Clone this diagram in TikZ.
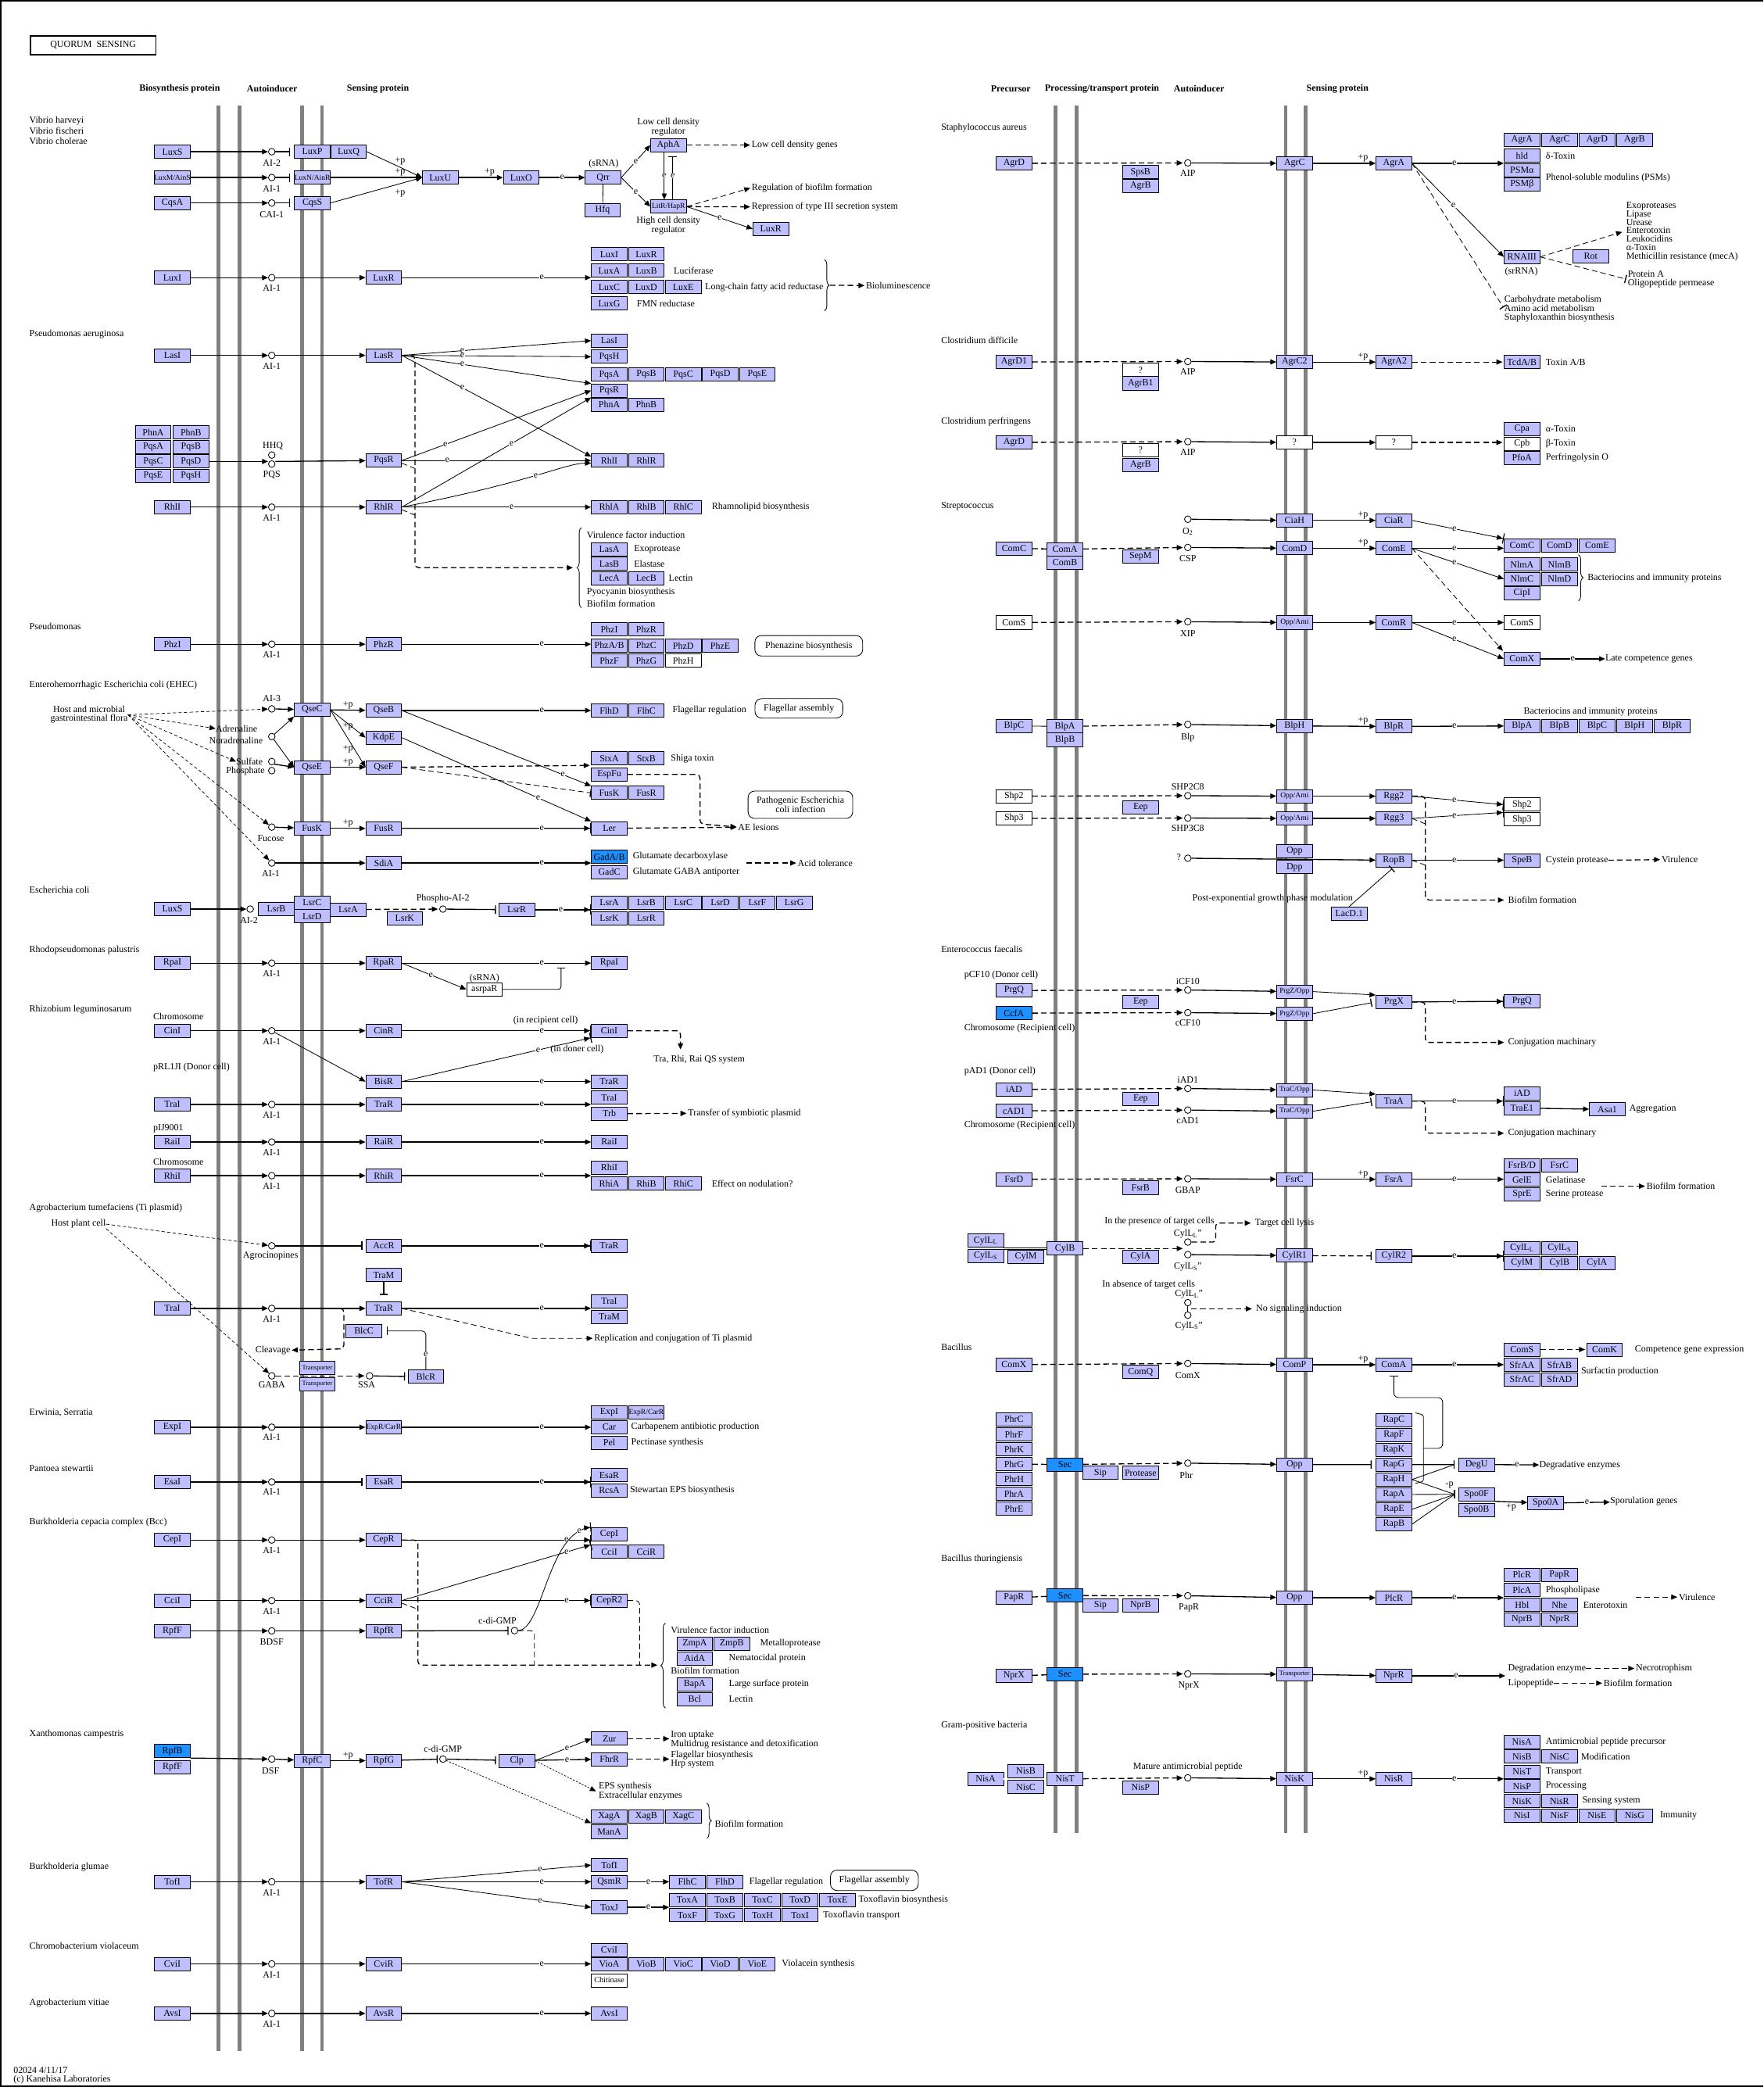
\documentclass[tikz,border=0pt]{standalone}
\usepackage{fontspec}
\setmainfont{Liberation Serif}
\usetikzlibrary{arrows.meta,positioning,decorations.pathreplacing}
\definecolor{kgene}{RGB}{191,191,255}
\definecolor{khit}{RGB}{30,144,255}
\definecolor{kmem}{RGB}{128,128,128}

\begin{document}
\begin{tikzpicture}[x=0.05cm, y=-0.05cm,
    txt/.style={font=\fontsize{10}{9}\selectfont, inner sep=0pt},
    gene/.style={txt, draw, line width=0.7pt, fill=kgene, minimum width=1.34cm, minimum height=0.5cm},
    sgene/.style={gene, font=\fontsize{8}{8}\selectfont},
    hgene/.style={gene, fill=khit},
    wgene/.style={gene, fill=white},
    cpd/.style={circle, draw, line width=0.7pt, fill=white, minimum size=0.25cm, inner sep=0pt},
    lab/.style={txt},
    note/.style={txt, anchor=west, align=left},
    hdr/.style={txt, font=\fontsize{10}{9}\selectfont\bfseries},
    elab/.style={txt, fill=white, inner sep=0.4pt},
    mem/.style={line width=4pt, draw=kmem},
    fine/.style={line width=0.7pt},
    act/.style={-{Triangle[length=6.5pt,width=5.5pt]}, line width=1.1pt},
    inh/.style={-{Bar[width=9pt,line width=1.1pt]}, line width=1.1pt},
    rep/.style={-{Triangle[length=6.5pt,width=5.5pt] Bar[width=11pt,line width=1pt]}, line width=1.1pt},
    dsh/.style={line width=1.1pt, dash pattern=on 6pt off 3.5pt},
    ind/.style={act, dash pattern=on 6pt off 3.5pt, shorten >=0.5mm},
    dinh/.style={inh, dash pattern=on 6pt off 3.5pt},
    hind/.style={act, line width=0.6pt, dash pattern=on 3.5pt off 2.5pt},
    dot/.style={act, line width=0.6pt, dash pattern=on 2pt off 1.5pt},
    pill/.style={txt, draw, line width=0.7pt, rounded corners=7pt, align=center},
    brc/.style={decorate, decoration={brace, amplitude=5pt}, line width=0.7pt}
  ]
  \useasboundingbox (0,0) rectangle (1325,1568);
  \draw[line width=1.2pt] (1325,0.6) -- (0.6,0.6) -- (0.6,1567.4) -- (1325,1567.4);
  \node[txt, draw, line width=1.2pt, minimum width=4.7cm, minimum height=0.7cm] (title) at (70,34) {QUORUM\ \ SENSING};

  % column heads
  \node[hdr] at (135,66.5) {Biosynthesis protein};
  \node[hdr] at (204.5,66.5) {Autoinducer};
  \node[hdr] at (284,66.5) {Sensing protein};
  \node[hdr] at (759.5,66.5) {Precursor};
  \node[hdr] at (828,66.5) {Processing/transport protein};
  \node[hdr] at (901,66.5) {Autoinducer};
  \node[hdr] at (1005,66.5) {Sensing protein};

  % membranes
  \foreach \xx in {164,180,227,242} \draw[mem] (\xx,79) -- (\xx,1541);
  \foreach \xx in {793,809,966,981} \draw[mem] (\xx,79) -- (\xx,1377);

  % ---------- Vibrio
  \node[note] at (22,98) {Vibrio harveyi\\[2pt]Vibrio fischeri\\[2pt]Vibrio cholerae};
  \node[gene] (luxS) at (129.5,114) {LuxS};
  \node[sgene] (luxM) at (129.5,133.4) {LuxM/AinS};
  \node[gene] (cqsA) at (129.5,152.5) {CqsA};
  \node[cpd] (ai2) at (204.2,114) {};
  \node[cpd] (ai1) at (204.2,133.4) {};
  \node[cpd] (cai1) at (204.2,152.5) {};
  \node[lab] at (204.2,122.3) {AI-2};
  \node[lab] at (204.2,141.8) {AI-1};
  \node[lab] at (204.2,161.5) {CAI-1};
  \node[gene] (luxP) at (234.7,114) {LuxP};
  \node[gene] (luxQ) at (261.9,114) {LuxQ};
  \node[sgene] (luxN) at (234.7,133.4) {LuxN/AinR};
  \node[gene] (cqsS) at (234.7,152.5) {CqsS};
  \node[gene] (luxU) at (330.8,133.4) {LuxU};
  \node[gene] (luxO) at (391.6,133.4) {LuxO};
  \node[gene] (qrr) at (453.2,133.4) {Qrr};
  \node[lab] at (453.6,123.3) {(sRNA)};
  \node[gene] (hfq) at (452.8,157.7) {Hfq};
  \node[gene] (aphA) at (502.3,109) {AphA};
  \node[lab, align=center] at (502.3,95.4) {Low cell density\\regulator};
  \node[sgene] (litR) at (502.3,155.2) {LitR/HapR};
  \node[lab, align=center] at (502.3,169.5) {High cell density\\regulator};
  \node[gene] (luxRv) at (579.2,172) {LuxR};
  \node[note] (lcdg) at (564.7,109) {Low cell density genes};
  \node[note] (rbf) at (564.7,141) {Regulation of biofilm formation};
  \node[note] (rt3) at (564.7,155.6) {Repression of type III secretion system};
  \draw[act] (luxS) -- (ai2);
  \draw[act] (luxM) -- (ai1);
  \draw[act] (cqsA) -- (cai1);
  \draw[inh, shorten >=1.6mm] (ai2) -- (luxP);
  \draw[inh, shorten >=1.6mm] (ai1) -- (luxN);
  \draw[inh, shorten >=1.6mm] (cai1) -- (cqsS);
  \draw[act, fine] (luxQ.east) -- (luxU.west);
  \draw[act] (luxN) -- (luxU);
  \draw[act, fine] (cqsS.east) -- (luxU.west);
  \node[lab] at (300.7,121.5) {+p};
  \node[lab] at (300.7,129.3) {+p};
  \node[lab] at (300.7,145.5) {+p};
  \draw[act] (luxU) -- node[lab, above=1pt, pos=.7] {+p} (luxO);
  \draw[act] (luxO) -- node[elab] {e} (qrr);
  \draw[fine] (qrr) -- (hfq);
  \draw[act, fine] (qrr.east) -- node[elab] {e} (aphA.west);
  \draw[act, fine] (qrr.east) -- node[elab] {e} (litR.west);
  \draw[act, fine] ([xshift=-1.6mm]aphA.south) -- node[elab] {e} ([xshift=-1.6mm]litR.north);
  \draw[inh, fine, shorten >=1.6mm] ([xshift=1.6mm]litR.north) -- node[elab] {e} ([xshift=1.6mm]aphA.south);
  \draw[ind] (aphA) -- (lcdg);
  \draw[ind, fine] (litR.east) -- (rbf.west);
  \draw[ind] (litR) -- (rt3);
  \draw[act, fine] (litR.east) -- node[elab] {e} (luxRv.west);

  % ---------- AHL rows of the left side
  \foreach \nm/\syn/\sen/\yy/\ai in {lux/LuxI/LuxR/208.6/AI-1, las/LasI/LasR/267/AI-1,
      rhl/RhlI/RhlR/381/AI-1, phz/PhzI/PhzR/484/AI-1, rpa/RpaI/RpaR/723.6/AI-1,
      cin/CinI/CinR/774.4/AI-1, tra/TraI/TraR/829.8/AI-1, rai/RaiI/RaiR/858/AI-1,
      rhi/RhiI/RhiR/883.3/AI-1, trb/TraI/TraR/983/AI-1, cep/CepI/CepR/1157/AI-1,
      cci/CciI/CciR/1202.5/AI-1, rpf/RpfF/RpfR/1225.3/BDSF, tof/TofI/TofR/1413.8/AI-1,
      cvi/CviI/CviR/1475.5/AI-1, avs/AvsI/AvsR/1512.7/AI-1} {
    \node[gene] (\nm-syn) at (129.5,\yy) {\syn};
    \node[cpd] (\nm-ai) at (204.2,\yy) {};
    \node[lab] at (204.2,\yy+8) {\ai};
    \node[gene] (\nm-sen) at (288.3,\yy) {\sen};
    \draw[act] (\nm-syn) -- (\nm-ai);
    \draw[act] (\nm-ai) -- (\nm-sen);
  }

  % LuxI / LuxR
  \node[gene] (lxI) at (457.8,191) {LuxI};
  \node[gene] (lxR) at (485.6,191) {LuxR};
  \node[gene] (lxA) at (457.8,203.4) {LuxA};
  \node[gene] (lxB) at (485.6,203.4) {LuxB};
  \foreach \g [count=\i from 0] in {LuxC,LuxD,LuxE} \node[gene] (lxC\i) at ({457.8+27.8*\i},215.7) {\g};
  \node[gene] (lxG) at (457.8,228) {LuxG};
  \node[note] at (506.2,203.4) {Luciferase};
  \node[note] at (529.7,215.7) {Long-chain fatty acid reductase};
  \node[note] at (478.4,228) {FMN reductase};
  \draw[act] (lux-sen) -- node[elab, pos=.74] {e} (lux-sen -| lxA.west);
  \draw[brc] (619.5,195) -- (619.5,233.5);
  \coordinate (biol) at (623.5,214.3);
  \node[note] (biolum) at (650.6,214.5) {Bioluminescence};
  \draw[ind] (biol) -- (biolum.west);

  % Pseudomonas aeruginosa
  \node[note] at (22,251) {Pseudomonas aeruginosa};
  \node[gene] (lasIt) at (457.8,255.9) {LasI};
  \node[gene] (pqsHt) at (457.8,268) {PqsH};
  \foreach \g [count=\i from 0] in {PqsA,PqsB,PqsC,PqsD,PqsE} \node[gene] (pqsA\i) at ({457.8+27.8*\i},281.5) {\g};
  \node[gene] (pqsRt) at (457.8,293.4) {PqsR};
  \node[gene] (phnAt) at (457.8,304.1) {PhnA};
  \node[gene] (phnBt) at (485.6,304.1) {PhnB};
  \foreach \a/\b/\yy [count=\i] in {PhnA/PhnB/324.9, PqsA/PqsB/335.8, PqsC/PqsD/346.7, PqsE/PqsH/357.6} {
    \node[gene] (pq\i-a) at (115.1,\yy) {\a};
    \node[gene] (pq\i-b) at (143.5,\yy) {\b};
  }
  \node[cpd] (hhq) at (204.2,341.9) {};
  \node[cpd] (pqs) at (204.2,348.6) {};
  \node[lab] at (205,335) {HHQ};
  \node[lab] at (204.2,356.7) {PQS};
  \node[gene] (pqsR) at (288.3,346) {PqsR};
  \draw[act] (pq3-b.east) -- (pq3-b.east -| hhq.west);
  \draw[act] (pq3-b.east -| hhq.east) -- (pqsR);
  \node[gene] (rhlIt) at (457.8,346) {RhlI};
  \node[gene] (rhlRt) at (485.6,346) {RhlR};
  \foreach \g [count=\i from 0] in {RhlA,RhlB,RhlC} \node[gene] (rhlA\i) at ({457.8+27.8*\i},381) {\g};
  \node[note] at (534.8,381) {Rhamnolipid biosynthesis};
  \draw[act, fine] (las-sen.east) -- node[elab, pos=.32] {e} (lasIt.west);
  \draw[act, fine] (las-sen.east) -- node[elab, pos=.32] {e} (pqsHt.west);
  \draw[act, fine] (las-sen.east) -- node[elab, pos=.32] {e} (pqsRt.north west);
  \draw[act, fine] (las-sen.east) -- node[elab, pos=.32] {e} ([yshift=1.5mm]rhlIt.west);
  \draw[act, fine] (pqsR.east) -- node[elab, pos=.23] {e} (pqsRt.west);
  \draw[act] (pqsR) -- node[elab, pos=.24] {e} (rhlIt);
  \draw[act, fine] (rhl-sen.east) -- node[elab, pos=.58] {e} (pqsRt.south west);
  \draw[act, fine] (rhl-sen.east) .. controls (400,362) and (425,348) .. node[elab, pos=.5] {e} ([yshift=-1mm]rhlIt.west);
  \draw[act] (rhl-sen) -- node[elab, pos=.58] {e} (rhlA0);
  \coordinate (vfi) at (431.5,426.5);
  \coordinate (vj1) at (311.8,352);
  \coordinate (vj2) at (311.8,387);
  \draw[ind, rounded corners=4pt] (las-sen.east) -| (311.8,420) |- (vfi);
  \draw[dsh, fine] ([yshift=-1mm]pqsR.east) -- (vj1);
  \draw[dsh, fine] ([yshift=-1mm]rhl-sen.east) -- (vj2);
  \draw[brc] (437,456.6) -- (437,396.4);
  \node[note] at (440.8,401.7) {Virulence factor induction};
  \node[gene] (lasA) at (457.8,412.6) {LasA};
  \node[gene] (lasB) at (457.8,423.5) {LasB};
  \node[gene] (lecA) at (457.8,434.6) {LecA};
  \node[gene] (lecB) at (485.6,434.6) {LecB};
  \node[note] at (476.3,412.6) {Exoprotease};
  \node[note] at (476.3,423.5) {Elastase};
  \node[note] at (502.4,434.6) {Lectin};
  \node[note] at (440.8,444.7) {Pyocyanin biosynthesis};
  \node[note] at (440.8,453.5) {Biofilm formation};

  % Pseudomonas
  \node[note] at (22,470.5) {Pseudomonas};
  \node[gene] (phzIt) at (457.8,472.9) {PhzI};
  \node[gene] (phzRt) at (485.6,472.9) {PhzR};
  \node[gene] (phz0) at (457.8,485) {PhzA/B};
  \foreach \g [count=\i] in {PhzC,PhzD,PhzE} \node[gene] (phz\i) at ({457.8+27.8*\i},485) {\g};
  \node[gene] (phzF) at (457.8,496.4) {PhzF};
  \node[gene] (phzG) at (485.6,496.4) {PhzG};
  \node[wgene] (phzH) at (513.4,496.4) {PhzH};
  \draw[act] (phz-sen) -- node[elab, pos=.74] {e} (phz-sen -| phz0.west);
  \node[pill, minimum width=4.05cm, minimum height=0.77cm] (phzm) at (607.7,485.2) {Phenazine biosynthesis};

  % ---------- EHEC
  \node[note] at (22,515) {Enterohemorrhagic Escherichia coli (EHEC)};
  \node[lab, align=center] (host) at (67,537) {Host and microbial\\gastrointestinal flora};
  \node[cpd] (ai3) at (204.2,532.6) {};
  \node[lab] at (204.2,524.8) {AI-3};
  \node[cpd] (adrc) at (204.2,553.4) {};
  \node[lab, anchor=east] (adr) at (193.5,547.4) {Adrenaline};
  \node[lab, anchor=east] at (197.5,556.2) {Noradrenaline};
  \node[cpd] (sulc) at (204.2,572.2) {};
  \node[cpd] (phoc) at (204.2,579) {};
  \node[lab, anchor=east] (sul) at (197.5,572.2) {Sulfate};
  \node[lab, anchor=east] at (199,579.5) {Phosphate};
  \node[cpd] (fuc) at (204.2,621.4) {};
  \node[lab] at (203.5,629.7) {Fucose};
  \node[cpd] (ai1e) at (204.2,648.4) {};
  \node[lab] at (203.5,656) {AI-1};
  \node[gene] (qseC) at (234.5,533.2) {QseC};
  \node[gene] (qseE) at (234.5,576.4) {QseE};
  \node[gene] (fusK) at (234.5,622.4) {FusK};
  \node[gene] (qseB) at (288.3,533.8) {QseB};
  \node[gene] (kdpE) at (288.3,554.2) {KdpE};
  \node[gene] (qseF) at (288.3,576.4) {QseF};
  \node[gene] (fusR) at (288.3,622.4) {FusR};
  \node[gene] (sdiA) at (288.3,648.4) {SdiA};
  \draw[hind] (host.east) -- (ai3);
  \draw[hind] (host.east) -- (adr.west);
  \draw[hind] (host.east) -- (sul.west);
  \draw[hind] (host.east) -- (fuc);
  \draw[hind] (host.east) -- (ai1e);
  \draw[act] (ai3) -- (qseC);
  \draw[act, fine] (adrc) -- (qseC.south west);
  \draw[act, fine] (adrc) -- (qseE.west);
  \draw[act] (sulc.south east) -- (qseE.west);
  \draw[act] (fuc) -- (fusK);
  \draw[act] (ai1e) -- (sdiA);
  \draw[act] (qseC) -- node[lab, above=1pt] {+p} (qseB);
  \draw[act, fine] (qseC.east) -- (kdpE.west);
  \draw[act, fine] (qseC.east) -- (qseF.west);
  \node[lab] at (261.4,545.7) {+p};
  \node[lab] at (261.4,562.6) {+p};
  \draw[act] (qseE) -- node[lab, above=1pt] {+p} (qseF);
  \draw[act] (fusK) -- node[lab, above=1pt] {+p} (fusR);
  \node[gene] (flhD) at (457.8,533.8) {FlhD};
  \node[gene] (flhC) at (485.6,533.8) {FlhC};
  \node[note] at (505.3,533.8) {Flagellar regulation};
  \node[pill, minimum width=3.3cm, minimum height=0.73cm] (flgA) at (600.3,532.2) {Flagellar assembly};
  \node[gene] (stxA) at (457.8,569.8) {StxA};
  \node[gene] (stxB) at (485.6,569.8) {StxB};
  \node[note] at (504,569.8) {Shiga toxin};
  \node[gene] (espF) at (457.8,581.8) {EspFu};
  \node[gene] (fsK) at (457.8,595.7) {FusK};
  \node[gene] (fsR) at (485.6,595.7) {FusR};
  \node[gene] (ler) at (457.8,622.3) {Ler};
  \node[note] (ael) at (554.5,621.4) {AE lesions};
  \node[pill, minimum width=3.93cm, minimum height=1.03cm] (pec) at (601.4,604.6) {Pathogenic Escherichia\\coli infection};
  \draw[act] (qseB) -- node[elab, pos=.74] {e} (flhD);
  \draw[act, fine] (qseB.east) -- node[elab, pos=.85] {e} (fsK.north west);
  \draw[act, fine] (kdpE.east) -- node[elab, pos=.72] {e} (ler.north west);
  \draw[ind] (qseF.east) -- (stxA.south west);
  \draw[dinh, fine] (qseF.east) -- (fsK.west);
  \draw[rep] (fusR) -- node[elab, pos=.74] {e} (ler);
  \draw[ind, rounded corners=4pt] (espF.east) -- (526,581.8) -- (526,619) -- (ael.west);
  \draw[ind] (ler) -- (ael);
  \node[hgene] (gadA) at (457.8,643.7) {GadA/B};
  \node[gene] (gadC) at (457.8,655.3) {GadC};
  \node[note] at (475.4,643.7) {Glutamate decarboxylase};
  \node[note] at (475.4,655.3) {Glutamate GABA antiporter};
  \draw[act] (sdiA) -- node[elab, pos=.74] {e} (sdiA -| gadA.west);
  \coordinate (gadx) at (560.9,648.4);
  \node[note] (acid) at (599.3,648.4) {Acid tolerance};
  \draw[ind] (gadx) -- (acid.west);

  % ---------- Escherichia coli
  \node[note] at (22,668.5) {Escherichia coli};
  \node[gene] (luxSe) at (129.5,683) {LuxS};
  \node[cpd] (ai2e) at (188,683) {};
  \node[lab] at (187.1,691.8) {AI-2};
  \node[gene] (lsrB) at (207.6,683) {LsrB};
  \node[gene] (lsrC) at (234.5,678) {LsrC};
  \node[gene] (lsrD) at (234.5,688.4) {LsrD};
  \node[gene] (lsrA) at (261.6,683.3) {LsrA};
  \node[gene] (lsrK) at (304.1,689.9) {LsrK};
  \node[cpd] (pai2) at (332.8,683) {};
  \node[lab] at (332.8,675.4) {Phospho-AI-2};
  \node[gene] (lsrR) at (388.3,683.5) {LsrR};
  \foreach \g [count=\i from 0] in {LsrA,LsrB,LsrC,LsrD,LsrF,LsrG} \node[gene] (lt\i) at ({457.8+27.8*\i},678) {\g};
  \node[gene] (ltK) at (457.8,689.9) {LsrK};
  \node[gene] (ltR) at (485.6,689.9) {LsrR};
  \draw[act] (luxSe) -- (ai2e);
  \draw[ind] (lsrA) -- (pai2);
  \draw[inh, shorten >=1mm] (pai2) -- (lsrR);
  \draw[rep] (lsrR) -- node[elab, pos=.46] {e} (lsrR -| lt0.west);

  % ---------- Rhodopseudomonas palustris
  \node[note] at (22,713.6) {Rhodopseudomonas palustris};
  \node[gene] (rpaIt) at (457.8,723.6) {RpaI};
  \node[wgene] (asr) at (364,743.3) {asrpaR};
  \node[lab] at (364,734.8) {(sRNA)};
  \draw[act] (rpa-sen) -- node[elab, pos=.74] {e} (rpaIt);
  \draw[act, fine] (rpa-sen.east) -- node[elab, pos=.45] {e} (asr.west);
  \coordinate (rpae) at (421.6,727);
  \draw[inh, fine, rounded corners=3pt] (asr.east) -| (rpae);

  % ---------- Rhizobium leguminosarum
  \node[note] at (22,758.5) {Rhizobium leguminosarum};
  \node[note] at (115,763.6) {Chromosome};
  \node[note] at (115,802) {pRL1JI (Donor cell)};
  \node[note] at (115,847.6) {pIJ9001};
  \node[note] at (115,872.8) {Chromosome};
  \node[gene] (cinIt) at (457.8,774.4) {CinI};
  \node[lab] at (410,766.8) {(in recipient cell)};
  \node[lab] at (433.6,788.3) {(in doner cell)};
  \node[gene] (bisR) at (288.3,812.6) {BisR};
  \draw[rep] (cin-sen) -- node[elab, pos=.74] {e} (cinIt);
  \draw[act, fine] (cin-ai) -- (bisR.west);
  \draw[rep, fine] (bisR.east) -- node[elab, pos=.72] {e} (cinIt.south west);
  \coordinate (trq) at (511.3,789.5);
  \node[lab] (trarhi) at (525.4,796.2) {Tra, Rhi, Rai QS system};
  \draw[ind, rounded corners=4pt] (cinIt.east) -| (trq);
  \node[gene] (traRt) at (457.8,812.6) {TraR};
  \node[gene] (traIt) at (457.8,824.7) {TraI};
  \node[gene] (trbt) at (457.8,836.7) {Trb};
  \node[note] (tsp) at (516.9,836.5) {Transfer of symbiotic plasmid};
  \draw[act] (bisR) -- node[elab, pos=.74] {e} (traRt);
  \draw[act] (tra-sen) -- node[elab, pos=.74] {e} (tra-sen -| traIt.west);
  \draw[ind] (trbt) -- (tsp.west);
  \node[gene] (raiIt) at (457.8,858) {RaiI};
  \draw[act] (rai-sen) -- node[elab, pos=.74] {e} (raiIt);
  \node[gene] (rhiIt) at (457.8,877.2) {RhiI};
  \foreach \g [count=\i from 0] in {RhiA,RhiB,RhiC} \node[gene] (rhiA\i) at ({457.8+27.8*\i},889.3) {\g};
  \node[note] at (534.8,889.3) {Effect on nodulation?};
  \draw[act] (rhi-sen) -- node[elab, pos=.74] {e} (rhi-sen -| rhiIt.west);

  % ---------- Agrobacterium tumefaciens
  \node[note] at (22,907.5) {Agrobacterium tumefaciens (Ti plasmid)};
  \node[lab] (hpc) at (59,919.7) {Host plant cell};
  \node[cpd] (agc) at (204.2,936) {};
  \node[lab] at (203.3,943.7) {Agrocinopines};
  \node[gene] (accR) at (288.3,936) {AccR};
  \node[gene] (traRa) at (457.8,936) {TraR};
  \node[gene] (traM) at (288.3,958) {TraM};
  \node[gene] (traIb) at (457.8,977.6) {TraI};
  \node[gene] (traMb) at (457.8,989.2) {TraM};
  \node[cpd] (gaba) at (204.2,1033.7) {};
  \node[lab] at (204.2,1040.6) {GABA};
  \node[sgene, font=\fontsize{7}{7}\selectfont] (tp1) at (238.4,1027.8) {Transporter};
  \node[sgene, font=\fontsize{7}{7}\selectfont] (tp2) at (238.4,1040) {Transporter};
  \node[cpd] (ssa) at (277.7,1033.7) {};
  \node[lab] at (275.5,1040.6) {SSA};
  \node[gene] (blcR) at (320,1034.4) {BlcR};
  \node[gene] (blcC) at (273.4,1000) {BlcC};
  \node[lab] (clv) at (205,1014.4) {Cleavage};
  \node[note] (rcti) at (446.4,1005.5) {Replication and conjugation of Ti plasmid};
  \draw[hind] (hpc.east) -- (agc);
  \draw[hind] (hpc.south east) -- (gaba);
  \draw[inh, shorten >=1.2mm] (agc) -- (accR);
  \draw[rep] (accR) -- node[elab, pos=.74] {e} (traRa);
  \draw[inh, shorten >=2.4mm] (traM) -- (trb-sen);
  \draw[act] (trb-sen) -- node[elab, pos=.74] {e} (trb-sen -| traIb.west);
  \draw[ind, fine] (trb-sen.east) -- (399.4,1005.5) -- (rcti.west);
  \coordinate (clvs) at (255.4,983);
  \draw[ind, rounded corners=4pt] (clvs) -| (258.4,1013.4) -- (clv.east);
  \draw[inh, fine, rounded corners=4pt, shorten >=1.8mm] (blcR.north) |- node[elab, pos=.2] {e} (blcC.east);
  \draw[ind] (gaba) -- (ssa);
  \draw[inh, shorten >=1mm] (ssa) -- (blcR);

  % ---------- Erwinia, Serratia
  \node[note] at (22,1061.5) {Erwinia, Serratia};
  \node[gene] (expIs) at (129.5,1072.3) {ExpI};
  \node[cpd] (expc) at (204.2,1072.3) {};
  \node[lab] at (204.2,1079.8) {AI-1};
  \node[sgene] (expR) at (288.3,1072.3) {ExpR/CarR};
  \node[gene] (expIt) at (457.8,1061.1) {ExpI};
  \node[sgene] (expRt) at (485.6,1061.1) {ExpR/CarR};
  \node[gene] (car) at (457.8,1072.3) {Car};
  \node[gene] (pel) at (457.8,1084) {Pel};
  \node[note] at (474.2,1072.3) {Carbapenem antibiotic production};
  \node[note] at (474.2,1084) {Pectinase synthesis};
  \draw[act] (expIs) -- (expc);
  \draw[act] (expc) -- (expR);
  \draw[act] (expR) -- node[elab, pos=.74] {e} (car);

  % ---------- Pantoea stewartii
  \node[note] at (22,1103) {Pantoea stewartii};
  \node[gene] (esaIs) at (129.5,1113.4) {EsaI};
  \node[cpd] (esac) at (204.2,1113.4) {};
  \node[lab] at (204.2,1121) {AI-1};
  \node[gene] (esaR) at (288.3,1113.4) {EsaR};
  \node[gene] (esaRt) at (457.8,1108.3) {EsaR};
  \node[gene] (rcsA) at (457.8,1119.9) {RcsA};
  \node[note] at (473.3,1119.9) {Stewartan EPS biosynthesis};
  \draw[act] (esaIs) -- (esac);
  \draw[inh, shorten >=1.2mm] (esac) -- (esaR);
  \draw[rep] (esaR) -- node[elab, pos=.74] {e} (esaR -| esaRt.west);

  % ---------- Burkholderia cepacia complex
  \node[note] at (22,1144) {Burkholderia cepacia complex (Bcc)};
  \node[gene] (cepIt) at (457.8,1152.8) {CepI};
  \node[gene] (cciIt) at (457.8,1165.8) {CciI};
  \node[gene] (cciRt) at (485.6,1165.8) {CciR};
  \node[gene] (cepR2) at (457.9,1202.5) {CepR2};
  \node[cpd] (cdg1) at (386.6,1225.1) {};
  \node[lab] at (373.8,1217.8) {c-di-GMP};
  \draw[rep] (cep-sen) -- node[elab, pos=.87] {e} (cep-sen -| cepIt.west);
  \draw[rep, fine] (cci-sen.east) -- node[elab, pos=.87] {e} (cciIt.north west);
  \draw[rep, fine] (cdg1.east) .. controls (408,1224) and (412,1150) .. node[elab, pos=.9] {e} (cepIt.north west);
  \draw[rep] (cci-sen) -- node[elab, pos=.87] {e} (cepR2);
  \draw[inh, shorten >=0.9mm] (rpf-sen) -- (cdg1);
  \coordinate (vf2) at (495,1251);
  \draw[ind, rounded corners=4pt] (cep-sen.east) -| (314,1245) |- (vf2);
  \draw[dsh, fine] ([yshift=-1mm]cci-sen.east) -- (314,1209);
  \draw[dsh, fine, rounded corners=4pt] (cdg1.east) -| (401.5,1251);
  \draw[dsh, fine, rounded corners=4pt] (cepR2.east) -| (480.6,1251);
  \draw[brc] (500,1283.3) -- (500,1219.5);
  \node[note] at (504,1224.5) {Virulence factor induction};
  \node[gene] (zmpA) at (522,1235) {ZmpA};
  \node[gene] (zmpB) at (549.8,1235) {ZmpB};
  \node[gene] (aidA) at (522,1246.1) {AidA};
  \node[note] at (504,1255.1) {Biofilm formation};
  \node[gene] (bapA) at (522,1265.4) {BapA};
  \node[gene] (bcl) at (522,1276.6) {Bcl};
  \node[note] at (571.1,1235) {Metalloprotease};
  \node[note] at (547.6,1246.1) {Nematocidal protein};
  \node[note] at (547.6,1265.4) {Large surface protein};
  \node[note] at (547.6,1276.6) {Lectin};

  % ---------- Xanthomonas campestris
  \node[note] at (22,1302.8) {Xanthomonas campestris};
  \node[hgene] (rpfB) at (129.5,1315.6) {RpfB};
  \node[gene] (rpfFx) at (129.5,1327.7) {RpfF};
  \node[cpd] (dsf) at (204.2,1321.6) {};
  \node[lab] at (203.3,1330.7) {DSF};
  \node[gene] (rpfC) at (234.5,1322.8) {RpfC};
  \node[gene] (rpfG) at (288.3,1322.8) {RpfG};
  \node[cpd] (cdg2) at (332.8,1321.6) {};
  \node[lab] at (332.8,1314) {c-di-GMP};
  \node[gene] (clp) at (388.3,1322.8) {Clp};
  \node[gene] (zur) at (457.9,1306.3) {Zur};
  \node[gene] (fhrR) at (457.9,1321.6) {FhrR};
  \foreach \g [count=\i from 0] in {XagA,XagB,XagC} \node[gene] (xag\i) at ({457.8+27.8*\i},1364.5) {\g};
  \node[gene] (manA) at (457.8,1376.2) {ManA};
  \node[note] (iron) at (504,1307) {Iron uptake\\Multidrug resistance and detoxification};
  \node[note] (flbs) at (504,1321.9) {Flagellar biosynthesis\\Hrp system};
  \node[note] (eps) at (449.8,1345.8) {EPS synthesis\\Extracellular enzymes};
  \draw[act] (rpfB.south east) -- (dsf);
  \draw[act] (dsf) -- (rpfC);
  \draw[act] (rpfC) -- node[lab, above=1pt] {+p} (rpfG);
  \draw[inh, shorten >=0.6mm] (rpfG) -- (cdg2);
  \draw[inh, shorten >=1mm] (cdg2) -- (clp);
  \draw[act, fine] (clp.east) -- node[elab, pos=.57] {e} (zur.west);
  \draw[act] (clp) -- node[elab, pos=.57] {e} (fhrR);
  \draw[dot] (clp.east) -- ([xshift=-1mm]eps.west);
  \draw[dot] (cdg2) -- (xag0.south west);
  \draw[ind] (zur.east) -- (zur.east -| iron.west);
  \draw[ind] (fhrR.east) -- (fhrR.east -| flbs.west);
  \draw[brc] (531,1354.7) -- (531,1381.2);
  \node[note] at (537,1370) {Biofilm formation};

  % ---------- Burkholderia glumae
  \node[note] at (22,1403) {Burkholderia glumae};
  \node[gene] (tofIt) at (457.8,1401.3) {TofI};
  \node[gene] (qsmR) at (457.8,1413.8) {QsmR};
  \node[gene] (toxJ) at (457.8,1433) {ToxJ};
  \node[gene] (flhCb) at (516.5,1413.8) {FlhC};
  \node[gene] (flhDb) at (544.7,1413.8) {FlhD};
  \node[note] at (563,1414) {Flagellar regulation};
  \node[pill, minimum width=3.3cm, minimum height=0.77cm] (flgB) at (657,1412.7) {Flagellar assembly};
  \foreach \g [count=\i from 0] in {ToxA,ToxB,ToxC,ToxD,ToxE} \node[gene] (tx\i) at ({516.5+28.2*\i},1427.5) {\g};
  \foreach \g [count=\i from 0] in {ToxF,ToxG,ToxH,ToxI} \node[gene] (ty\i) at ({516.5+28.2*\i},1438.9) {\g};
  \node[note] at (645,1427.5) {Toxoflavin biosynthesis};
  \node[note] at (618.5,1439) {Toxoflavin transport};
  \draw[act, fine] (tof-sen.east) -- node[elab, pos=.73] {e} (tofIt.west);
  \draw[act] (tof-sen) -- node[elab, pos=.74] {e} (qsmR);
  \draw[act, fine] (tof-sen.east) -- node[elab, pos=.73] {e} (toxJ.west);
  \draw[act] (qsmR) -- node[elab] {e} (flhCb);
  \draw[act] (toxJ) -- node[elab] {e} (toxJ -| tx0.west);

  % ---------- Chromobacterium violaceum
  \node[note] at (22,1462) {Chromobacterium violaceum};
  \node[gene] (cviIt) at (457.8,1465) {CviI};
  \foreach \g [count=\i from 0] in {VioA,VioB,VioC,VioD,VioE} \node[gene] (vio\i) at ({457.8+27.8*\i},1475.5) {\g};
  \node[wgene, font=\fontsize{8.5}{9}\selectfont] (chit) at (457.8,1487.8) {Chitinase};
  \node[note] at (587.4,1475.5) {Violacein synthesis};
  \draw[act] (cvi-sen) -- node[elab, pos=.74] {e} (vio0);

  % ---------- Agrobacterium vitiae
  \node[note] at (22,1504.7) {Agrobacterium vitiae};
  \node[gene] (avsIt) at (457.8,1512.7) {AvsI};
  \draw[act] (avs-sen) -- node[elab, pos=.74] {e} (avsIt);

  \node[note] at (10,1555.6) {02024 4/11/17};
  \node[note] at (10,1562.3) {(c) Kanehisa Laboratories};

  % ================= right side
  % Staphylococcus aureus
  \node[note] at (707.1,95.9) {Staphylococcus aureus};
  \node[gene] (agrD) at (761.9,122.7) {AgrD};
  \node[gene] (spsB) at (857,129.4) {SpsB};
  \node[gene] (agrB) at (857,139.5) {AgrB};
  \node[cpd] (aip1) at (892.5,122.4) {};
  \node[lab] at (892.5,130.3) {AIP};
  \node[gene] (agrC) at (972.7,122.7) {AgrC};
  \node[gene] (agrA) at (1047.3,122.7) {AgrA};
  \foreach \g [count=\i from 0] in {AgrA,AgrC,AgrD,AgrB} \node[gene] (sa\i) at ({1143.6+28.2*\i},105.3) {\g};
  \node[gene] (hld) at (1143.6,117) {hld};
  \node[gene] (psma) at (1143.6,128) {PSMα};
  \node[gene] (psmb) at (1143.6,138.4) {PSMβ};
  \node[note] at (1161.4,117) {δ-Toxin};
  \node[note] at (1161.4,133.4) {Phenol-soluble modulins (PSMs)};
  \node[gene] (rnaIII) at (1143.6,193) {RNAIII};
  \node[lab] at (1143.2,203.9) {(srRNA)};
  \node[gene] (rot) at (1195.2,192.6) {Rot};
  \node[note] (exo) at (1221.8,174) {Exoproteases\\Lipase\\Urease\\Enterotoxin\\Leukocidins\\α-Toxin\\Methicillin resistance (mecA)};
  \node[note] (prA) at (1223,210) {Protein A\\Oligopeptide permease};
  \node[note] (carb) at (1130.3,232) {Carbohydrate metabolism\\Amino acid metabolism\\Staphyloxanthin biosynthesis};
  \draw[ind] (agrD) -- (aip1);
  \draw[act] (aip1) -- (agrC);
  \draw[act] (agrC) -- node[lab, above=1pt, pos=.8] {+p} (agrA);
  \draw[act] (agrA) -- node[elab, pos=.46] {e} (agrA -| hld.west);
  \draw[act, fine] (agrA.east) -- node[elab, pos=.45] {e} (rnaIII.west);
  \draw[ind, fine] (rnaIII.east) -- ([xshift=-1mm]exo.west);
  \draw[dinh, fine, shorten >=0.6mm] (rnaIII.east) -- (prA.west);
  \draw[dinh, fine, shorten >=0.6mm] (agrA.east) -- (carb.west);

  % Clostridium difficile
  \node[note] at (707.1,255.9) {Clostridium difficile};
  \node[gene] (agrD1) at (761.9,272) {AgrD1};
  \node[wgene] (qa) at (857,277.9) {?};
  \node[gene] (agrB1) at (857,288) {AgrB1};
  \node[cpd] (aip2) at (892.5,271.6) {};
  \node[lab] at (892.5,279.4) {AIP};
  \node[gene] (agrC2) at (972.7,272) {AgrC2};
  \node[gene] (agrA2) at (1047.3,272) {AgrA2};
  \node[gene] (tcdA) at (1143.6,272) {TcdA/B};
  \node[note] at (1161.4,272) {Toxin A/B};
  \draw[ind] (agrD1) -- (aip2);
  \draw[act] (aip2) -- (agrC2);
  \draw[act] (agrC2) -- node[lab, above=1pt, pos=.8] {+p} (agrA2);
  \draw[ind] (agrA2) -- (tcdA);

  % Clostridium perfringens
  \node[note] at (707.1,316.7) {Clostridium perfringens};
  \node[gene] (agrDp) at (761.9,332.4) {AgrD};
  \node[wgene] (qb) at (857,338.1) {?};
  \node[gene] (agrBp) at (857,349.2) {AgrB};
  \node[cpd] (aip3) at (892.5,331.8) {};
  \node[lab] at (892.5,339.6) {AIP};
  \node[wgene] (qc) at (972.7,332.4) {?};
  \node[wgene] (qd) at (1047.3,332.4) {?};
  \node[gene] (cpa) at (1143.6,322.4) {Cpa};
  \node[wgene] (cpb) at (1143.6,333.5) {Cpb};
  \node[gene] (pfoA) at (1143.6,344) {PfoA};
  \node[note] at (1161.4,322.4) {α-Toxin};
  \node[note] at (1161.4,333.5) {β-Toxin};
  \node[note] at (1161.4,344) {Perfringolysin O};
  \draw[ind] (agrDp) -- (aip3);
  \draw[act] (aip3) -- (qc);
  \draw[act] (qc) -- (qd);
  \draw[ind] (qd) -- (qd -| cpb.west);

  % Streptococcus
  \node[note] at (707.1,380.7) {Streptococcus};
  \node[cpd] (o2) at (892.5,390.1) {};
  \node[lab] at (892.5,399.4) {O\textsubscript{2}};
  \node[gene] (ciaH) at (972.7,391) {CiaH};
  \node[gene] (ciaR) at (1047.3,391) {CiaR};
  \node[gene] (comC) at (761.9,412) {ComC};
  \node[gene] (comA) at (800.2,412.6) {ComA};
  \node[gene] (comB) at (800.2,422.6) {ComB};
  \node[gene] (sepM) at (857,417.8) {SepM};
  \node[cpd] (csp) at (892.5,411.3) {};
  \node[lab] at (892.5,419.9) {CSP};
  \node[gene] (comD) at (972.7,411.9) {ComD};
  \node[gene] (comE) at (1047.3,411.9) {ComE};
  \foreach \g [count=\i from 0] in {ComC,ComD,ComE} \node[gene] (cc\i) at ({1143.6+28.2*\i},409.9) {\g};
  \node[gene] (nlmA) at (1143.6,424.1) {NlmA};
  \node[gene] (nlmB) at (1171.8,424.1) {NlmB};
  \node[gene] (nlmC) at (1143.6,435) {NlmC};
  \node[gene] (nlmD) at (1171.8,435) {NlmD};
  \node[gene] (cipI) at (1143.6,445.7) {CipI};
  \draw[brc] (1186,416.7) -- (1186,451.4);
  \node[note] at (1192.8,434.6) {Bacteriocins and immunity proteins};
  \node[wgene] (comS) at (761.9,467.7) {ComS};
  \node[cpd] (xip) at (892.5,467.1) {};
  \node[lab] at (892.5,476.1) {XIP};
  \node[sgene] (oppA1) at (972.7,467.7) {Opp/Ami};
  \node[gene] (comR) at (1047.3,467.7) {ComR};
  \node[wgene] (comSt) at (1143.6,467.7) {ComS};
  \node[gene] (comX) at (1143.6,495) {ComX};
  \node[note] (lcg) at (1206.1,495) {Late competence genes};
  \draw[act] (o2) -- (ciaH);
  \draw[act] (ciaH) -- node[lab, above=1pt, pos=.8] {+p} (ciaR);
  \draw[rep, fine] (ciaR.east) -- node[elab, pos=.46] {e} (cc0.north west);
  \draw[dsh] (comC) -- (comA);
  \draw[ind] (comA) -- (csp);
  \draw[act] (csp) -- (comD);
  \draw[act] (comD) -- node[lab, above=1pt, pos=.8] {+p} (comE);
  \draw[act] (comE) -- node[elab, pos=.46] {e} (comE -| cc0.west);
  \draw[act, fine] (comE.east) -- node[elab, pos=.46] {e} (nlmC.west);
  \draw[ind, fine] (comE.east) -- (comX.north west);
  \draw[ind] (comS) -- (xip);
  \draw[act] (xip) -- (oppA1);
  \draw[act] (oppA1) -- (comR);
  \draw[act] (comR) -- node[elab, pos=.46] {e} (comSt);
  \draw[act, fine] (comR.east) -- node[elab, pos=.46] {e} (comX.west);
  \draw[act] (comX) -- node[elab] {e} (lcg);

  \node[gene] (blpC) at (761.9,545.4) {BlpC};
  \node[gene] (blpA) at (800.2,545.8) {BlpA};
  \node[gene] (blpB) at (800.2,555.8) {BlpB};
  \node[cpd] (blp) at (892.5,544.3) {};
  \node[lab] at (892.5,554.2) {Blp};
  \node[gene] (blpH) at (972.7,545.4) {BlpH};
  \node[gene] (blpR) at (1047.3,545.8) {BlpR};
  \foreach \g [count=\i from 0] in {BlpA,BlpB,BlpC,BlpH,BlpR} \node[gene] (bl\i) at ({1143.6+28.2*\i},545.4) {\g};
  \node[lab] at (1195.2,534.9) {Bacteriocins and immunity proteins};
  \draw[fine] (blpC) -- (blpA);
  \draw[ind] (blpA) -- (blp);
  \draw[act] (blp) -- (blpH);
  \draw[act] (blpH) -- node[lab, above=1pt, pos=.8] {+p} (blpR);
  \draw[act] (blpR) -- node[elab, pos=.46] {e} (bl0);

  \node[wgene] (shp2) at (761.9,598.2) {Shp2};
  \node[wgene] (shp3) at (761.9,614.9) {Shp3};
  \node[gene] (eep1) at (857,606.6) {Eep};
  \node[cpd] (shp2c) at (892.5,597.8) {};
  \node[lab] at (892.5,591.2) {SHP2C8};
  \node[cpd] (shp3c) at (892.5,614.6) {};
  \node[lab] at (892.5,622.3) {SHP3C8};
  \node[sgene] (oppA2) at (972.7,598.2) {Opp/Ami};
  \node[sgene] (oppA3) at (972.7,614.9) {Opp/Ami};
  \node[gene] (rgg2) at (1047.3,598.2) {Rgg2};
  \node[gene] (rgg3) at (1047.3,614.9) {Rgg3};
  \node[wgene] (shp2t) at (1143.6,604.5) {Shp2};
  \node[wgene] (shp3t) at (1143.6,615.6) {Shp3};
  \draw[ind] (shp2) -- (shp2c);
  \draw[ind] (shp3) -- (shp3c);
  \draw[act] (shp2c) -- (oppA2);
  \draw[act] (shp3c) -- (oppA3);
  \draw[act] (oppA2) -- (rgg2);
  \draw[act] (oppA3) -- (rgg3);
  \draw[rep, fine] (rgg2.east) -- node[elab, pos=.46] {e} (shp2t.west);
  \draw[rep, fine] (rgg3.east) -- node[elab, pos=.46] {e} (shp3t.north west);

  \node[gene] (opp1) at (972.7,639.5) {Opp};
  \node[gene] (dpp) at (972.7,651.5) {Dpp};
  \node[cpd] (ropc) at (892.5,644.8) {};
  \node[lab, anchor=east] at (887.5,644) {?};
  \node[gene] (ropB) at (1047.3,646.3) {RopB};
  \node[gene] (speB) at (1143.6,646.3) {SpeB};
  \node[note] (cyst) at (1161.4,646.3) {Cystein protease};
  \node[note] (vir1) at (1248.4,645.8) {Virulence};
  \node[lab] at (956.2,675.2) {Post-exponential growth phase modulation};
  \node[gene] (lacD) at (1013.8,686.3) {LacD.1};
  \node[note] (bf1) at (1133.1,676.2) {Biofilm formation};
  \draw[act] (ropc) -- (ropB);
  \draw[act] (ropB) -- node[elab, pos=.46] {e} (speB);
  \draw[ind] (cyst.east) -- (vir1.west);
  \draw[inh, fine, shorten >=0.8mm] (lacD.north) -- (ropB.south);
  \coordinate (bfv1) at (1071,619);
  \coordinate (bfv2) at (1071,650);
  \draw[ind, rounded corners=4pt] (rgg2.east) -| (1071,676.2) -- ([xshift=-1mm]bf1.west);
  \draw[dsh, fine] (rgg3.east) -- (bfv1);
  \draw[dsh, fine] (ropB.east) -- (bfv2);

  % Enterococcus faecalis
  \node[note] at (707.1,712.9) {Enterococcus faecalis};
  \node[note] at (724.4,732.9) {pCF10 (Donor cell)};
  \node[gene] (prgQ) at (761.9,744.2) {PrgQ};
  \node[hgene] (ccfA) at (761.9,761.2) {CcfA};
  \node[note] at (724.4,772.7) {Chromosome (Recipient cell)};
  \node[gene] (eep2) at (857,752.8) {Eep};
  \node[cpd] (icf) at (892.5,743.8) {};
  \node[lab] at (892.5,737.1) {iCF10};
  \node[cpd] (ccf) at (892.5,760.8) {};
  \node[lab] at (892.5,768.5) {cCF10};
  \node[sgene] (prgZ1) at (972.7,745) {PrgZ/Opp};
  \node[sgene] (prgZ2) at (972.7,761.6) {PrgZ/Opp};
  \node[gene] (prgX) at (1047.3,752.8) {PrgX};
  \node[gene] (prgQt) at (1143.6,752.3) {PrgQ};
  \node[note] (conj1) at (1133.1,783.2) {Conjugation machinary};
  \draw[ind] (prgQ) -- (icf);
  \draw[ind] (ccfA) -- (ccf);
  \draw[act] (icf) -- (prgZ1);
  \draw[act] (ccf) -- (prgZ2);
  \draw[act, fine] (prgZ1.east) -- (prgX.north west);
  \draw[inh, fine, shorten >=1.5mm] (prgZ2.east) -- (prgX.west);
  \draw[rep] (prgX) -- node[elab, pos=.46] {e} (prgQt);
  \draw[ind, rounded corners=4pt] (prgX.east) -| (1071,783.2) -- ([xshift=-1mm]conj1.west);

  \node[note] at (724.4,805.2) {pAD1 (Donor cell)};
  \node[gene] (iAD) at (761.9,818.5) {iAD};
  \node[gene] (cAD1) at (761.9,834.6) {cAD1};
  \node[note] at (724.4,845.7) {Chromosome (Recipient cell)};
  \node[gene] (eep3) at (857,825.6) {Eep};
  \node[cpd] (iad1) at (892.5,817.8) {};
  \node[lab] at (892.5,811.3) {iAD1};
  \node[cpd] (cad1) at (892.5,834) {};
  \node[lab] at (892.5,841.9) {cAD1};
  \node[sgene] (traC1) at (972.7,818.9) {TraC/Opp};
  \node[sgene] (traC2) at (972.7,834.9) {TraC/Opp};
  \node[gene] (traA) at (1047.3,827.3) {TraA};
  \node[gene] (iADt) at (1143.6,821.6) {iAD};
  \node[gene] (traE1) at (1143.6,832.5) {TraE1};
  \node[gene] (asa1) at (1207.7,833.5) {Asa1};
  \node[note] at (1224.2,833.5) {Aggregation};
  \node[note] (conj2) at (1133.1,851.4) {Conjugation machinary};
  \draw[ind] (iAD) -- (iad1);
  \draw[ind] (cAD1) -- (cad1);
  \draw[act] (iad1) -- (traC1);
  \draw[act] (cad1) -- (traC2);
  \draw[act, fine] (traC1.east) -- (traA.north west);
  \draw[inh, fine, shorten >=1.5mm] (traC2.east) -- (traA.west);
  \draw[rep] (traA) -- node[elab, pos=.46] {e} (traA -| iADt.west);
  \draw[act] (traE1) -- (asa1);
  \draw[ind, rounded corners=4pt] (traA.east) -| (1071,851.4) -- ([xshift=-1mm]conj2.west);

  \node[gene] (fsrD) at (761.9,886) {FsrD};
  \node[gene] (fsrB) at (857,892.3) {FsrB};
  \node[cpd] (gbap) at (892.5,885.6) {};
  \node[lab] at (892.5,894.4) {GBAP};
  \node[gene] (fsrC) at (972.7,886) {FsrC};
  \node[gene] (fsrA) at (1047.3,886) {FsrA};
  \node[gene] (fsrBD) at (1143.6,875.5) {FsrB/D};
  \node[gene] (fsrCt) at (1171.8,875.5) {FsrC};
  \node[gene] (gelE) at (1143.6,886.4) {GelE};
  \node[gene] (sprE) at (1143.6,897.5) {SprE};
  \node[note] at (1161.4,886.4) {Gelatinase};
  \node[note] at (1161.4,897.5) {Serine protease};
  \coordinate (fsrx) at (1203,891.2);
  \node[note] (bf2) at (1237.1,891.2) {Biofilm formation};
  \draw[ind] (fsrD) -- (gbap);
  \draw[act] (gbap) -- (fsrC);
  \draw[act] (fsrC) -- node[lab, above=1pt, pos=.8] {+p} (fsrA);
  \draw[act] (fsrA) -- node[elab, pos=.46] {e} (fsrA -| gelE.west);
  \draw[ind] (fsrx) -- (bf2.west);

  \node[lab] at (871.2,917.4) {In the presence of target cells};
  \node[note] (tcl) at (942.9,918.9) {Target cell lysis};
  \node[cpd] (cylLLc) at (892.5,933.2) {};
  \node[lab] at (892.5,927.2) {CylL\textsubscript{L}''};
  \node[cpd] (cylLSc) at (892.5,942.6) {};
  \node[lab] at (892.5,952) {CylL\textsubscript{S}''};
  \node[gene] (cylLLb) at (740.6,932.1) {CylL\textsubscript{L}};
  \node[gene] (cylLSb) at (740.6,943.7) {CylL\textsubscript{S}};
  \node[gene] (cylM) at (770.8,944.3) {CylM};
  \node[gene] (cylB) at (800.2,938) {CylB};
  \node[gene] (cylA) at (857,944.3) {CylA};
  \node[gene] (cylR1) at (972.7,943.3) {CylR1};
  \node[gene] (cylR2) at (1047.3,943.7) {CylR2};
  \node[gene] (cy0) at (1143.6,937.8) {CylL\textsubscript{L}};
  \node[gene] (cy1) at (1171.8,937.8) {CylL\textsubscript{S}};
  \foreach \g [count=\i from 0] in {CylM,CylB,CylA} \node[gene] (cz\i) at ({1143.6+28.2*\i},948.9) {\g};
  \draw[double, double distance=1.2pt, line width=0.5pt] (cylLLb.east |- cylB.west) -- (cylB.west);
  \draw[ind] (cylB) -- (cylB -| cylLLc.west);
  \draw[ind, rounded corners=3pt] (cylLLc.east) -- (913.5,933.2) -- (913.5,918.9) -- ([xshift=-1mm]tcl.west);
  \draw[act] (cylLSc) -- (cylR1);
  \draw[dinh, shorten >=1.5mm] (cylR1) -- (cylR2);
  \draw[rep] (cylR2) -- node[elab, pos=.46] {e} (cylR2 -| cy0.west);
  \node[lab] at (863.1,965.1) {In absence of target cells};
  \node[cpd] (cLL2) at (892.5,978.7) {};
  \node[lab] at (893.3,972.4) {CylL\textsubscript{L}''};
  \node[cpd] (cLS2) at (892.5,988.1) {};
  \node[lab] at (893.3,996.1) {CylL\textsubscript{S}''};
  \node[note] (nsi) at (943.7,983.3) {No signaling induction};
  \coordinate (nsi0) at (895,983.3);
  \draw[fine] (cLL2) -- (cLS2);
  \draw[ind] (nsi0) -- ([xshift=-1mm]nsi.west);

  % Bacillus
  \node[note] at (707.1,1011.9) {Bacillus};
  \node[gene] (comXp) at (761.9,1025.3) {ComX};
  \node[gene] (comQ) at (857,1030.7) {ComQ};
  \node[cpd] (comXc) at (892.5,1024.4) {};
  \node[lab] at (892.5,1033.2) {ComX};
  \node[gene] (comP) at (972.7,1025.3) {ComP};
  \node[gene] (comAb) at (1047.3,1025.3) {ComA};
  \node[gene] (comSb) at (1143.6,1013.9) {ComS};
  \node[gene] (comK) at (1205.7,1013.9) {ComK};
  \node[note] at (1228.3,1013.9) {Competence gene expression};
  \node[gene] (sfAA) at (1143.6,1025.3) {SfrAA};
  \node[gene] (sfAB) at (1171.8,1025.3) {SfrAB};
  \node[gene] (sfAC) at (1143.6,1036.3) {SfrAC};
  \node[gene] (sfAD) at (1171.8,1036.3) {SfrAD};
  \node[note] at (1187.9,1030.1) {Surfactin production};
  \draw[ind] (comXp) -- (comXc);
  \draw[act] (comXc) -- (comP);
  \draw[act] (comP) -- node[lab, above=1pt, pos=.8] {+p} (comAb);
  \draw[act] (comAb) -- node[elab, pos=.46] {e} (sfAA);
  \draw[ind] (comSb) -- (comK);

  \foreach \g [count=\i from 0] in {PhrC,PhrF,PhrK,PhrG,PhrH,PhrA,PhrE} \node[gene] (ph\i) at (761.9,{1066.4+11.2*\i}) {\g};
  \foreach \g [count=\i from 0] in {RapC,RapF,RapK,RapG,RapH,RapA,RapE,RapB} \node[gene] (ra\i) at (1047.3,{1066.8+11.2*\i}) {\g};
  \node[hgene] (secB) at (800.2,1100.3) {Sec};
  \node[gene] (sip1) at (826.8,1106.6) {Sip};
  \node[gene] (prot) at (857,1106.6) {Protease};
  \node[cpd] (phrc) at (892.5,1099.3) {};
  \node[lab] at (891.3,1108.3) {Phr};
  \node[gene] (opp2) at (972.7,1100.3) {Opp};
  \node[gene] (degU) at (1109.4,1100.3) {DegU};
  \node[gene] (spo0F) at (1109.4,1122.7) {Spo0F};
  \node[gene] (spo0B) at (1109.4,1134.7) {Spo0B};
  \node[gene] (spo0A) at (1161.4,1129.3) {Spo0A};
  \node[note] (degE) at (1156.5,1100.8) {Degradative enzymes};
  \node[note] (spg) at (1209.7,1128.2) {Sporulation genes};
  \node[lab] at (1089.2,1115.6) {-p};
  \draw[dsh] (ph3) -- (secB);
  \draw[ind] (secB) -- (phrc);
  \draw[act] (phrc) -- (opp2);
  \draw[inh, shorten >=1.5mm] (opp2) -- (ra3);
  \draw[inh, shorten >=1.4mm] (ra3) -- (degU);
  \draw[fine] (ra4.east) -- ([xshift=-1.4mm]degU.west);
  \foreach \k in {4,...,7} \draw[fine] (ra\k.east) -- ([xshift=-1.4mm]spo0F.west);
  \draw[line width=1.1pt] ([xshift=-1.4mm,yshift=-1.6mm]spo0F.west) -- ([xshift=-1.4mm,yshift=1.6mm]spo0F.west);
  \draw[act] (degU) -- node[elab] {e} (degE);
  \draw[act] (spo0F.south east) -- node[lab, below=1pt] {+p} (spo0A);
  \draw[act] (spo0A) -- node[elab] {e} (spg);
  \draw[fine, rounded corners=2pt] (1063.5,1061.5) -- (1069.5,1063) -- (1069.5,1113) -- (1063.5,1114.5);
  \coordinate (rapb) at (1069.5,1088.2);
  \draw[inh, fine, rounded corners=5pt, shorten >=1.5mm] (rapb) -- (1084,1088.2) -- (1084,1050) -- (1047.3,1050) -- (comAb.south);

  % Bacillus thuringiensis
  \node[note] at (707.1,1171.6) {Bacillus thuringiensis};
  \node[gene] (papRp) at (761.9,1200.4) {PapR};
  \node[hgene] (secC) at (800.2,1198.8) {Sec};
  \node[gene] (sip2) at (826.8,1206.2) {Sip};
  \node[gene] (nprBp) at (857,1206.2) {NprB};
  \node[cpd] (papc) at (892.5,1198.9) {};
  \node[lab] at (893.3,1207.7) {PapR};
  \node[gene] (opp3) at (972.7,1200.4) {Opp};
  \node[gene] (plcR) at (1047.3,1200.4) {PlcR};
  \node[gene] (plcRt) at (1143.6,1183.2) {PlcR};
  \node[gene] (papRt) at (1171.8,1183.2) {PapR};
  \node[gene] (plcA) at (1143.6,1194.7) {PlcA};
  \node[gene] (hbl) at (1143.6,1205.7) {Hbl};
  \node[gene] (nhe) at (1171.8,1205.7) {Nhe};
  \node[gene] (nprBt) at (1143.6,1216.8) {NprB};
  \node[gene] (nprRt) at (1171.8,1216.8) {NprR};
  \node[note] at (1161.4,1194.7) {Phospholipase};
  \node[note] at (1189.6,1205.7) {Enterotoxin};
  \coordinate (plcx) at (1229,1199.9);
  \node[note] (vir2) at (1261.3,1199.9) {Virulence};
  \draw[dsh] (papRp) -- (secC);
  \draw[ind] (secC) -- (papc);
  \draw[act] (papc) -- (opp3);
  \draw[act] (opp3) -- (plcR);
  \draw[act] (plcR) -- node[elab, pos=.46] {e} (plcR -| plcA.west);
  \draw[ind] (plcx) -- (vir2.west);

  \node[gene] (nprXp) at (761.9,1259.1) {NprX};
  \node[hgene] (secD) at (800.2,1257.9) {Sec};
  \node[cpd] (nprXc) at (892.5,1257.6) {};
  \node[lab] at (893.3,1266.7) {NprX};
  \node[sgene, font=\fontsize{7}{7}\selectfont] (tport) at (972.7,1257.9) {Transporter};
  \node[gene] (nprR) at (1047.3,1259.1) {NprR};
  \node[note] (degen) at (1133.1,1253.5) {Degradation enzyme};
  \node[note] (necro) at (1229.1,1253.5) {Necrotrophism};
  \node[note] (lipo) at (1133.1,1264.6) {Lipopeptide};
  \node[note] (bf3) at (1204.9,1264.6) {Biofilm formation};
  \draw[dsh] (nprXp) -- (secD);
  \draw[ind] (secD) -- (nprXc);
  \draw[act] (nprXc) -- (tport);
  \draw[act] (tport) -- (nprR);
  \draw[act, shorten >=1mm] (nprR) -- node[elab, pos=.46] {e} (nprR -| degen.west);
  \draw[ind] (degen) -- (necro);
  \draw[ind] (lipo) -- (bf3);

  % Gram-positive bacteria
  \node[note] at (707.1,1296.4) {Gram-positive bacteria};
  \node[gene] (nisA) at (740.6,1336.5) {NisA};
  \node[gene] (nisB) at (770.8,1330.4) {NisB};
  \node[gene] (nisC) at (770.8,1342.6) {NisC};
  \node[gene] (nisT) at (800.2,1336.5) {NisT};
  \node[gene] (nisP) at (857,1343) {NisP};
  \node[cpd] (matc) at (892.5,1335.7) {};
  \node[lab] at (892.5,1327.7) {Mature antimicrobial peptide};
  \node[gene] (nisK) at (972.7,1336.5) {NisK};
  \node[gene] (nisR) at (1047.3,1336.5) {NisR};
  \node[gene] (niA) at (1143.6,1308.7) {NisA};
  \node[gene] (niB) at (1143.6,1319.8) {NisB};
  \node[gene] (niC) at (1171.8,1319.8) {NisC};
  \node[gene] (niT) at (1143.6,1331.2) {NisT};
  \node[gene] (niP) at (1143.6,1342) {NisP};
  \node[gene] (niK) at (1143.6,1353.1) {NisK};
  \node[gene] (niR) at (1171.8,1353.1) {NisR};
  \foreach \g [count=\i from 0] in {NisI,NisF,NisE,NisG} \node[gene] (nj\i) at ({1143.6+28.2*\i},1364.1) {\g};
  \node[note] at (1161.4,1308.7) {Antimicrobial peptide precursor};
  \node[note] at (1187.9,1319.8) {Modification};
  \node[note] at (1161.4,1331.2) {Transport};
  \node[note] at (1161.4,1342) {Processing};
  \node[note] at (1188.8,1353.1) {Sensing system};
  \node[note] at (1247.2,1364.1) {Immunity};
  \draw[double, double distance=1.2pt, line width=0.5pt] (nisA) -- (nisT);
  \draw[ind] (nisT) -- (matc);
  \draw[act] (matc) -- (nisK);
  \draw[act] (nisK) -- node[lab, above=1pt, pos=.8] {+p} (nisR);
  \draw[act] (nisR) -- node[elab, pos=.46] {e} (nisR -| niT.west);
\end{tikzpicture}
\end{document}
